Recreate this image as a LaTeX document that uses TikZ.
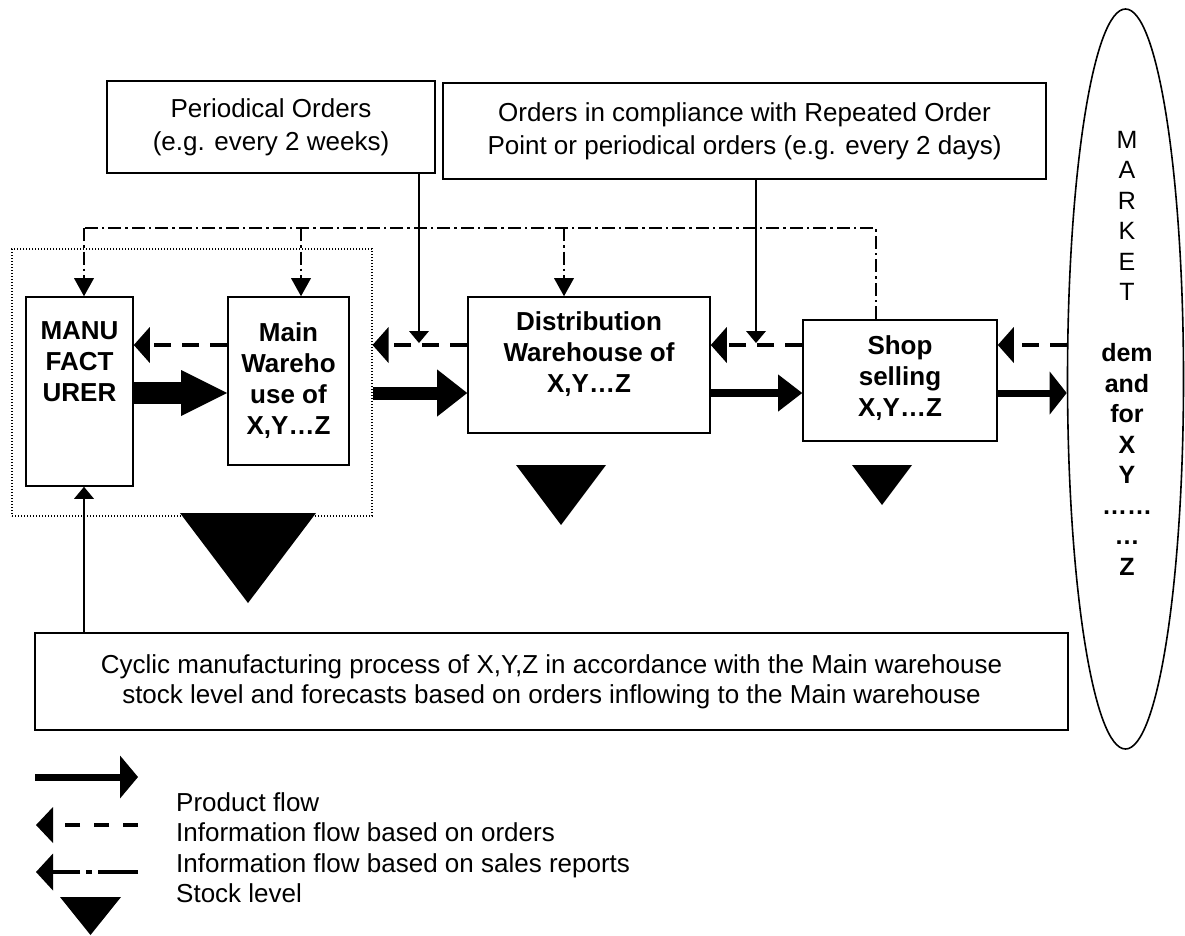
\documentclass[tikz,border=0pt]{standalone}
\usepackage{fontspec}
\setmainfont{Liberation Sans}
\usetikzlibrary{arrows.meta,shapes.geometric,calc}

\tikzset{
  box/.style={draw, rectangle, line width=1.6pt, inner sep=0pt},
  infobox/.style={box, align=center, font=\fontsize{26}{33}\selectfont},
  boxlabel/.style={anchor=north, inner sep=0pt, align=center,
    font=\fontsize{26}{31}\selectfont\bfseries},
  group/.style={draw, rectangle, line width=1.1pt, dash pattern=on 1.1pt off 1.9pt, inner sep=0pt},
  % product flow: thick shaft with a big filled head
  product/.style n args={3}{line width=#1, -{Triangle[length=#2, width=#3, line width=0pt]}},
  % information flow based on orders
  orderflow/.style={line width=3.5pt, dash pattern=on 17pt off 11pt,
    -{Triangle[length=16pt, width=36pt, line width=0pt]}},
  % information flow based on sales reports
  salesline/.style={line width=1.4pt, dash pattern=on 13pt off 4pt on 2.5pt off 4pt},
  salesflow/.style={salesline, -{Triangle[length=18pt, width=20pt, line width=0pt]}},
  feed/.style={line width=1.5pt, -{Triangle[length=12pt, width=20pt, line width=0pt]}},
  legendtext/.style={anchor=base west, inner sep=0pt, font=\fontsize{26}{30}\selectfont},
}

\begin{document}
\begin{tikzpicture}[x=1pt, y=-1pt]
\useasboundingbox (0,0) rectangle (1185,935);

% order sources
\node[infobox, minimum width=328pt, minimum height=92pt] (pbox) at (271,127)
  {Periodical Orders\\(e.g. every 2 weeks)};
\node[infobox, minimum width=603pt, minimum height=96pt] (obox) at (744.5,131)
  {Orders in compliance with Repeated Order\\Point or periodical orders (e.g. every 2 days)};

% supply chain
\node[group, minimum width=360pt, minimum height=267pt] (grp) at (192,382.5) {};
\node[box, minimum width=107pt, minimum height=189pt] (manu) at (79.5,391.5) {};
\node[box, minimum width=121pt, minimum height=168pt] (main) at (288.5,381) {};
\node[box, minimum width=242pt, minimum height=136pt] (dist) at (589,365) {};
\node[box, minimum width=194pt, minimum height=121pt] (shop) at (900,380.5) {};
\node[draw, ellipse, line width=1.6pt, inner sep=0pt, minimum width=116pt, minimum height=740pt]
  (market) at (1125.5,379) {};

\node[boxlabel] (manuT) at ([yshift=-25.7pt]manu.north) {MANU\\FACT\\URER};
\node[boxlabel] (mainT) at ([yshift=-26.7pt]main.north) {Main\\Wareho\\use of\\X,Y…Z};
\node[boxlabel] (distT) at ([yshift=-15.7pt]dist.north) {Distribution\\Warehouse of\\X,Y…Z};
\node[boxlabel] (shopT) at ([yshift=-16.7pt]shop.north) {Shop\\selling\\X,Y…Z};
\node[anchor=north, inner sep=0pt, align=center, font=\fontsize{25}{30.5}\selectfont]
  (marketT) at (1127,131)
  {M\\A\\R\\K\\E\\T\\[30.5pt]\textbf{dem}\\\textbf{and}\\\textbf{for}\\\textbf{X}\\\textbf{Y}\\\textbf{……}\\\textbf{…}\\\textbf{Z}};

\node[box, align=center, font=\fontsize{26}{30}\selectfont, minimum width=1033pt, minimum height=97pt]
  (cyc) at (551.5,681.5)
  {Cyclic manufacturing process of X,Y,Z in accordance with the Main warehouse\\
   stock level and forecasts based on orders inflowing to the Main warehouse};

% levels of the connectors
\coordinate (dd) at (0,228);
\coordinate (of) at (0,345);
\coordinate (pf) at (0,393);
\coordinate (o1) at (419,343);
\coordinate (o2) at (756,343);

% sales reports
\draw[salesline] ([xshift=-24pt]shop.north) |- ([xshift=4.5pt]manu.north |- dd);
\draw[salesflow] ([xshift=4.5pt]manu.north |- dd) -- ([xshift=4.5pt]manu.north);
\draw[salesflow] ([xshift=12.5pt]main.north |- dd) -- ([xshift=12.5pt]main.north);
\draw[salesflow] ([xshift=-25pt]dist.north |- dd) -- ([xshift=-25pt]dist.north);

% orders
\draw[feed] (pbox.south -| o1) -- (o1);
\draw[feed] (obox.south -| o2) -- (o2);
\draw[orderflow] (market.west |- of) -- (shop.east |- of);
\draw[orderflow] (shop.west |- of) -- (dist.east |- of);
\draw[orderflow] (dist.west |- of) -- (grp.east |- of);
\draw[orderflow] (main.west |- of) -- (manu.east |- of);

% manufacturing plan
\draw[feed] ([xshift=4.5pt]manu.south |- cyc.north) -- ([xshift=4.5pt]manu.south);

% product flow
\draw[product={22pt}{46pt}{46pt}] (manu.east |- pf) -- (main.west |- pf);
\draw[product={13pt}{30pt}{47pt}] (grp.east |- pf) -- (dist.west |- pf);
\draw[product={8pt}{24pt}{37pt}] (dist.east |- pf) -- (shop.west |- pf);
\draw[product={7pt}{17pt}{43pt}] (shop.east |- pf) -- (market.west |- pf);

% stock levels
\fill (180,513) -- (316,513) -- (248,603) -- cycle;
\fill (516,465) -- (606,465) -- (561,525) -- cycle;
\fill (852,465) -- (912,465) -- (882,505) -- cycle;

% legend
\coordinate (lp1) at (35,777);  \coordinate (lp2) at (138,777);
\coordinate (lo1) at (138,825); \coordinate (lo2) at (36,825);
\coordinate (ls1) at (138,872); \coordinate (ls2) at (36,872);
\draw[product={7pt}{18pt}{43pt}] (lp1) -- (lp2);
\draw[line width=3.5pt, dash pattern=on 15pt off 14pt,
  -{Triangle[length=17pt, width=36pt, line width=0pt]}] (lo1) -- (lo2);
\draw[line width=4.5pt, dash pattern=on 40pt off 6pt on 6pt off 6pt,
  -{Triangle[length=17pt, width=37pt, line width=0pt]}] (ls1) -- (ls2);
\fill (60,897) -- (121,897) -- (90.5,935) -- cycle;

\node[legendtext] (t1) at (176,811) {Product flow};
\node[legendtext] (t2) at (176,841.5) {Information flow based on orders};
\node[legendtext] (t3) at (176,872) {Information flow based on sales reports};
\node[legendtext] (t4) at (176,902.5) {Stock level};
\end{tikzpicture}
\end{document}
